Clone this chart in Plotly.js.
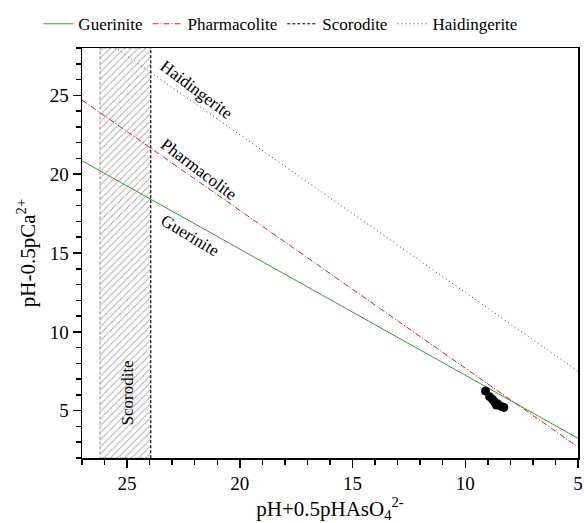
<!DOCTYPE html>
<html>
<head>
<meta charset="utf-8">
<script src="https://cdn.plot.ly/plotly-3.0.1.min.js"></script>
<style>html,body{margin:0;padding:0;background:#fff;}#chart{width:584px;height:523px;}</style>
</head>
<body>
<div id="chart"></div>
<script>
// Stability lines (endpoints)
const lineX = [27, 5];
const gueriniteY = [20.85, 3.25];
const pharmacoliteY = [24.7, 2.7];
const haidingeriteY = [29.5, 7.5];
// Scorodite field
const scoroditeX = [26.2, 23.95, 23.95, 26.2, 26.2];
const scoroditeY = [2, 2, 28, 28, 2];
const scoroditeEdgeX = [23.95, 23.95];
const scoroditeEdgeY = [2, 28];
// Sample points
const sampleX = [9.10, 8.92, 8.80, 8.70, 8.55, 8.40, 8.29, 8.62];
const sampleY = [6.25, 5.89, 5.73, 5.56, 5.42, 5.27, 5.21, 5.36];
// Labels
const labelNames = ['Haidingerite', 'Pharmacolite', 'Guerinite', 'Scorodite'];
const labelX = [21.94, 21.81, 22.21, 24.98];
const labelY = [25.375, 20.31, 16.125, 6.125];
const labelAngle = [37, 37, 31, -90];

const F = 'Liberation Serif';

const traces = [
  {x: scoroditeX, y: scoroditeY, type: 'scatter', mode: 'lines', fill: 'toself',
   fillcolor: 'rgba(0,0,0,0)',
   fillpattern: {shape: '/', fgcolor: '#a8a8a8', bgcolor: 'rgba(0,0,0,0)', size: 5, solidity: 0.18},
   line: {color: '#909090', width: 1, dash: '3px,2px'}, showlegend: false, hoverinfo: 'skip'},
  {x: lineX, y: gueriniteY, type: 'scatter', mode: 'lines', name: 'Guerinite',
   line: {color: '#3a9a3a', width: 1}},
  {x: lineX, y: pharmacoliteY, type: 'scatter', mode: 'lines', name: 'Pharmacolite',
   line: {color: '#d62020', width: 1, dash: '6px,2px,1px,2px'}},
  {x: scoroditeEdgeX, y: scoroditeEdgeY, type: 'scatter', mode: 'lines', name: 'Scorodite',
   line: {color: '#000000', width: 1, dash: '3px,2px'}},
  {x: lineX, y: haidingeriteY, type: 'scatter', mode: 'lines', name: 'Haidingerite',
   line: {color: '#3a3ab0', width: 1, dash: '1px,3px'}},
  {x: sampleX, y: sampleY, type: 'scatter', mode: 'markers', showlegend: false,
   marker: {color: '#000', size: 9}}
];

const annotations = labelNames.map((t, i) => ({
  x: labelX[i], y: labelY[i], xref: 'x', yref: 'y', text: t, showarrow: false,
  textangle: labelAngle[i], font: {family: F, size: 17, color: '#000'}
}));

const axisCommon = {
  showgrid: false, zeroline: false, showline: true, linecolor: '#000', linewidth: 1.5,
  mirror: true, ticks: 'outside', ticklen: 8, tickwidth: 1.5, tickcolor: '#000',
  tickfont: {family: F, size: 19, color: '#000'},
  minor: {ticks: 'outside', ticklen: 5, tickwidth: 1.5, tickcolor: '#000', dtick: 1}
};

const layout = {
  width: 584, height: 523,
  margin: {l: 82, r: 6, t: 42, b: 65},
  paper_bgcolor: '#fff', plot_bgcolor: '#fff',
  font: {family: F, color: '#000', size: 17},
  xaxis: Object.assign({}, axisCommon, {
    range: [27, 5], tickmode: 'linear', tick0: 5, dtick: 5,
    title: {text: 'pH+0.5pHAsO<sub>4</sub><sup>2-</sup>', font: {family: F, size: 21, color: '#000'}, standoff: 6}
  }),
  yaxis: Object.assign({}, axisCommon, {
    range: [2, 28], tickmode: 'linear', tick0: 5, dtick: 5,
    title: {text: 'pH-0.5pCa<sup>2+</sup>', font: {family: F, size: 21, color: '#000'}, standoff: 8}
  }),
  showlegend: true,
  legend: {orientation: 'h', x: -0.088, xanchor: 'left', y: 1.058, yanchor: 'middle',
    font: {family: F, size: 17, color: '#000'}, bgcolor: 'rgba(0,0,0,0)',
    itemwidth: 30, tracegroupgap: 0},
  annotations: annotations
};

Plotly.newPlot('chart', traces, layout, {displayModeBar: false, staticPlot: true});
</script>
</body>
</html>
